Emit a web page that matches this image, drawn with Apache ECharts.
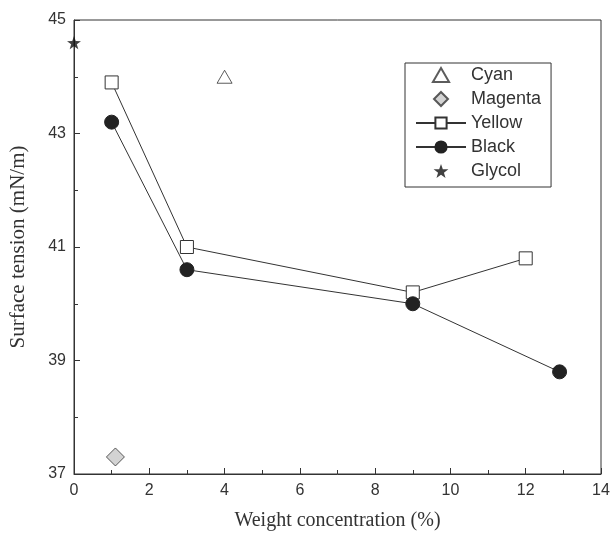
<!DOCTYPE html>
<html>
<head>
<meta charset="utf-8">
<script src="https://cdn.jsdelivr.net/npm/echarts@6/dist/echarts.min.js"></script>
<style>html,body{margin:0;padding:0;background:#fff;}#c{width:613px;height:534px;}</style>
</head>
<body>
<div id="c"></div>
<script>
const xTickValues = [0, 2, 4, 6, 8, 10, 12, 14];
const yTickLabels = [37, 39, 41, 43, 45];
const yMinorTicks = [38, 40, 42, 44];
const cyan = [[4, 44.0]];
const magenta = [[1.1, 37.3]];
const yellow = [[1, 43.9], [3, 41.0], [9, 40.2], [12, 40.8]];
const black = [[1, 43.2], [3, 40.6], [9, 40.0], [12.9, 38.8]];
const glycol = [[0, 44.6]];

const ink = '#333';
const tickFont = { fontFamily: 'Liberation Sans', fontSize: 16, color: '#333' };
const nameFont = { fontFamily: 'Liberation Serif', fontSize: 20, color: '#333' };
const TRI = 'path://M0,-10 L8.66,5 L-8.66,5 Z';
const DIA = 'path://M0,-10 L10,0 L0,10 L-10,0 Z';
const STAR = 'path://M0,-10 L2.35,-3.24 L9.51,-3.09 L3.8,1.24 L5.88,8.09 L0,4 L-5.88,8.09 L-3.8,1.24 L-9.51,-3.09 L-2.35,-3.24 Z';

const chart = echarts.init(document.getElementById('c'), null, { renderer: 'canvas' });
chart.setOption({
  animation: false,
  backgroundColor: '#fff',
  grid: { left: 74, right: 12, top: 20, bottom: 60, outerBoundsMode: 'none', containLabel: false,
    show: true, borderColor: ink, borderWidth: 1, backgroundColor: 'transparent' },
  legend: {
    orient: 'vertical', left: 405, top: 63,
    padding: [3, 10, 7, 10],
    borderColor: ink, borderWidth: 1,
    itemWidth: 50, itemHeight: 14, itemGap: 6,
    symbolKeepAspect: true,
    textStyle: { fontFamily: 'Liberation Sans', fontSize: 18, lineHeight: 18, color: '#333' },
    data: ['Cyan', 'Magenta', 'Yellow', 'Black', 'Glycol']
  },
  xAxis: {
    type: 'value', min: xTickValues[0], max: xTickValues[xTickValues.length - 1], interval: 2,
    name: 'Weight concentration (%)', nameLocation: 'middle', nameGap: 37, nameTextStyle: nameFont,
    axisLine: { show: true, lineStyle: { color: ink, width: 1 } },
    axisTick: { show: true, inside: true, length: 6, lineStyle: { color: ink } },
    minorTick: { show: true, splitNumber: 2, length: 4, lineStyle: { color: ink } },
    axisLabel: Object.assign({ margin: 9 }, tickFont),
    splitLine: { show: false }, minorSplitLine: { show: false }
  },
  yAxis: [{
    type: 'value', min: 37, max: 45, interval: 1,
    name: 'Surface tension (mN/m)', nameLocation: 'middle', nameGap: 45,
    nameTextStyle: Object.assign({}, nameFont, { fontSize: 21 }),
    axisLine: { show: true, lineStyle: { color: ink, width: 1 } },
    axisTick: { show: true, inside: true, length: 6, customValues: yTickLabels, lineStyle: { color: ink } },
    axisLabel: Object.assign({ margin: 8, customValues: yTickLabels }, tickFont),
    splitLine: { show: false }
  }, {
    type: 'value', min: 37, max: 45, interval: 1, position: 'left', offset: 0,
    axisLine: { show: false },
    axisTick: { show: true, inside: true, length: 4, customValues: yMinorTicks, lineStyle: { color: ink } },
    axisLabel: { show: false },
    splitLine: { show: false }
  }],
  series: [
    { name: 'Cyan', type: 'scatter', data: cyan, symbol: TRI, symbolSize: 15, symbolKeepAspect: true,
      itemStyle: { color: '#fff', borderColor: ink, borderWidth: 1 } },
    { name: 'Magenta', type: 'scatter', data: magenta, symbol: DIA, symbolSize: 18, symbolKeepAspect: true,
      itemStyle: { color: '#c8c8c8', borderColor: ink, borderWidth: 1 } },
    { name: 'Yellow', type: 'line', data: yellow, symbol: 'rect', symbolSize: 13,
      lineStyle: { color: ink, width: 1 },
      itemStyle: { color: '#fff', borderColor: ink, borderWidth: 1 } },
    { name: 'Black', type: 'line', data: black, symbol: 'circle', symbolSize: 14,
      lineStyle: { color: ink, width: 1 },
      itemStyle: { color: '#222', borderColor: '#222', borderWidth: 1 } },
    { name: 'Glycol', type: 'scatter', data: glycol, symbol: STAR, symbolSize: 14, symbolKeepAspect: true,
      itemStyle: { color: '#111' } }
  ]
});
</script>
</body>
</html>
